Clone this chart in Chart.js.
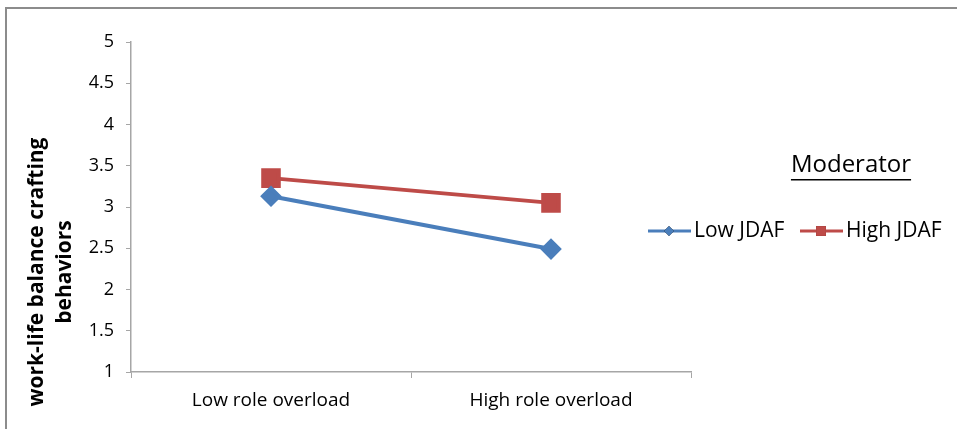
<!DOCTYPE html>
<html>
<head>
<meta charset="utf-8">
<script src="https://cdn.jsdelivr.net/npm/chart.js@4"></script>
<style>
  html, body { margin: 0; padding: 0; background: #fff; }
  #wrap { position: relative; width: 957px; height: 429px; }
  #frame { position: absolute; left: 5px; top: 7px; right: 0; bottom: 0;
           border-top: 2px solid #8c8c8c; border-left: 2px solid #8c8c8c; }
  canvas { position: absolute; left: 0; top: 0; }
</style>
</head>
<body>
<div id="wrap">
  <div id="frame"></div>
  <canvas id="chart" width="957" height="429"></canvas>
</div>
<script>
var categories = ['Low role overload', 'High role overload'];
var lowJdaf = [3.13, 2.49];
var highJdaf = [3.35, 3.05];
var yTicks = [1, 1.5, 2, 2.5, 3, 3.5, 4, 4.5, 5];
var yTitle = ['work-life balance crafting', 'behaviors'];

var FONT = '"Open Sans", sans-serif';

// y title sits lower than the axis middle in the original, so it is drawn here
var sideText = {
    id: 'sideText',
    afterDraw: function (chart) {
        var ctx = chart.ctx;
        ctx.save();
        ctx.fillStyle = '#000';

        ctx.save();
        ctx.translate(37, 272);
        ctx.rotate(-Math.PI / 2);
        ctx.font = 'bold 21px ' + FONT;
        ctx.textAlign = 'center';
        ctx.textBaseline = 'middle';
        ctx.fillText(yTitle[0], 0, 0);
        ctx.fillText(yTitle[1], 0, 28);
        ctx.restore();

        ctx.font = '24px ' + FONT;
        ctx.textAlign = 'center';
        ctx.textBaseline = 'middle';
        ctx.fillText('Moderator', 851, 165);
        var w = ctx.measureText('Moderator').width;
        ctx.fillRect(851 - w / 2, 179, w, 1.5);

        var items = [{ x: 648, ds: chart.data.datasets[0] }, { x: 800, ds: chart.data.datasets[1] }];
        ctx.font = '21px ' + FONT;
        ctx.textAlign = 'left';
        items.forEach(function (it) {
            var y = 231;
            ctx.strokeStyle = it.ds.borderColor;
            ctx.lineWidth = 3;
            ctx.beginPath();
            ctx.moveTo(it.x, y);
            ctx.lineTo(it.x + 43, y);
            ctx.stroke();
            ctx.beginPath();
            Chart.helpers.drawPoint(ctx, {
                pointStyle: it.ds.pointStyle,
                radius: it.ds.pointStyle === 'rect' ? 7 : 5,
                borderWidth: 0
            }, it.x + 21, y);
            ctx.fillStyle = it.ds.borderColor;
            ctx.fill();
            ctx.fillStyle = '#000';
            ctx.fillText(it.ds.label, it.x + 46, y);
        });
        ctx.restore();
    }
};

new Chart(document.getElementById('chart'), {
    type: 'line',
    data: {
        labels: categories,
        datasets: [{
            label: 'Low JDAF',
            data: lowJdaf,
            borderColor: '#4a7ebb',
            backgroundColor: '#4a7ebb',
            borderWidth: 4,
            pointStyle: 'rectRot',
            pointRadius: 8,
            pointHoverRadius: 8
        }, {
            label: 'High JDAF',
            data: highJdaf,
            borderColor: '#be4b48',
            backgroundColor: '#be4b48',
            borderWidth: 4,
            pointStyle: 'rect',
            pointRadius: 11,
            pointHoverRadius: 11
        }]
    },
    options: {
        responsive: false,
        animation: false,
        layout: { padding: { left: 15, right: 266, top: 42, bottom: 10 } },
        plugins: {
            legend: { display: false },
            tooltip: { enabled: false }
        },
        scales: {
            x: {
                offset: true,
                grid: { offset: true, drawOnChartArea: false, color: '#a6a6a6', tickLength: 6 },
                border: { color: '#a6a6a6', width: 1.5 },
                ticks: { color: '#000', font: { family: FONT, size: 19 }, padding: 11 },
                afterFit: function (s) { s.height = 47; }
            },
            y: {
                min: 1,
                max: 5,
                afterBuildTicks: function (s) { s.ticks = yTicks.map(function (v) { return { value: v }; }); },
                grid: { drawOnChartArea: false, color: '#a6a6a6', tickLength: 5 },
                border: { color: '#a6a6a6', width: 1.5 },
                ticks: {
                    color: '#000',
                    font: { family: FONT, size: 18 },
                    padding: 12,
                    callback: function (v) { return String(v); }
                },
                afterFit: function (s) { s.width = 116; }
            }
        }
    },
    plugins: [sideText]
});
</script>
</body>
</html>
